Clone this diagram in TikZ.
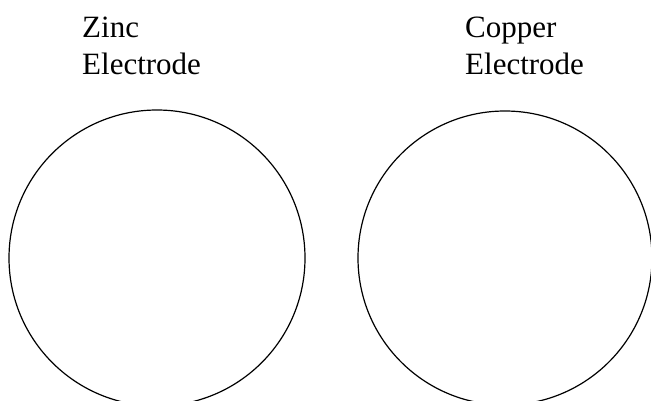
\documentclass[tikz,border=0pt]{standalone}
\usepackage{fontspec}
\setmainfont{Liberation Serif}
\usetikzlibrary{positioning}

\begin{document}
\begin{tikzpicture}[
	x=1pt, y=1pt,
	font=\fontsize{31}{37}\selectfont,
	label/.style={
		anchor=base west, align=left,
		inner sep=0pt
	},
	electrode/.style={
		circle, draw=black, line width=1.2pt,
		minimum size=296pt, inner sep=0pt
	}
]
\useasboundingbox (0,0) rectangle (651,400);
\clip (0,0) rectangle (651,400);

% Electrodes (cut by the page edge)
\node[electrode] (zinc)   at (157, 142) {};
\node[electrode, minimum size=294pt] (copper) at (505, 142) {};

% Labels above the electrodes
\node[label] (zinclbl)   at (82, 326) {Zinc\\Electrode};
\node[label] (copperlbl) at (465, 326) {Copper\\Electrode};

\end{tikzpicture}
\end{document}
